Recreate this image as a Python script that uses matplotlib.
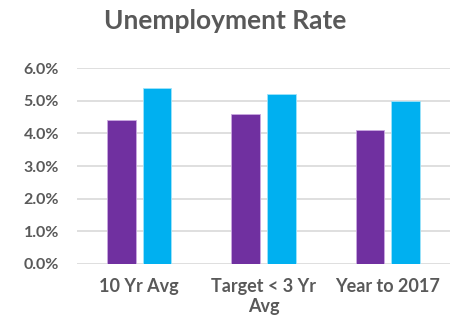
import numpy as np
import matplotlib.pyplot as plt

categories = ['10 Yr Avg', 'Target < 3 Yr\nAvg', 'Year to 2017']
series_a = [4.4, 4.6, 4.1]
series_b = [5.4, 5.2, 5.0]
yticks = [0, 1, 2, 3, 4, 5, 6]

plt.rcParams['font.family'] = ['Lato', 'DejaVu Sans']
grey = '#595959'

fig = plt.figure(figsize=(4.5, 3.29), dpi=100)
ax = fig.add_axes([0.171, 0.1976, 0.829, 0.5954])

x = np.arange(len(categories))
w = 0.23
ax.bar(x - 0.143, series_a, w, color='#7030A0', edgecolor='#C9A8E0', linewidth=0.6, zorder=3)
ax.bar(x + 0.143, series_b, w, color='#00B0F0', edgecolor='#9FE3FA', linewidth=0.6, zorder=3)

ax.set_xlim(-0.5, 2.5)
ax.set_ylim(0, 6)
ax.set_yticks(yticks)
ax.set_yticklabels([f'{v:.1f}%' for v in yticks], fontsize=11.5, fontweight='bold', color=grey)
ax.set_xticks(x)
ax.set_xticklabels(categories, fontsize=13, fontweight='bold', color=grey, linespacing=1.2, va='top')
ax.tick_params(axis='y', length=0, pad=13)
ax.tick_params(axis='x', length=0, pad=10)
ax.grid(axis='y', color='#D9D9D9', linewidth=1.2, zorder=0)
for s in ax.spines.values():
    s.set_visible(False)

fig.text(0.5, 0.935, 'Unemployment Rate', ha='center', va='center', fontsize=19, fontweight='bold', color=grey)

fig.savefig('out.png', dpi=100)
